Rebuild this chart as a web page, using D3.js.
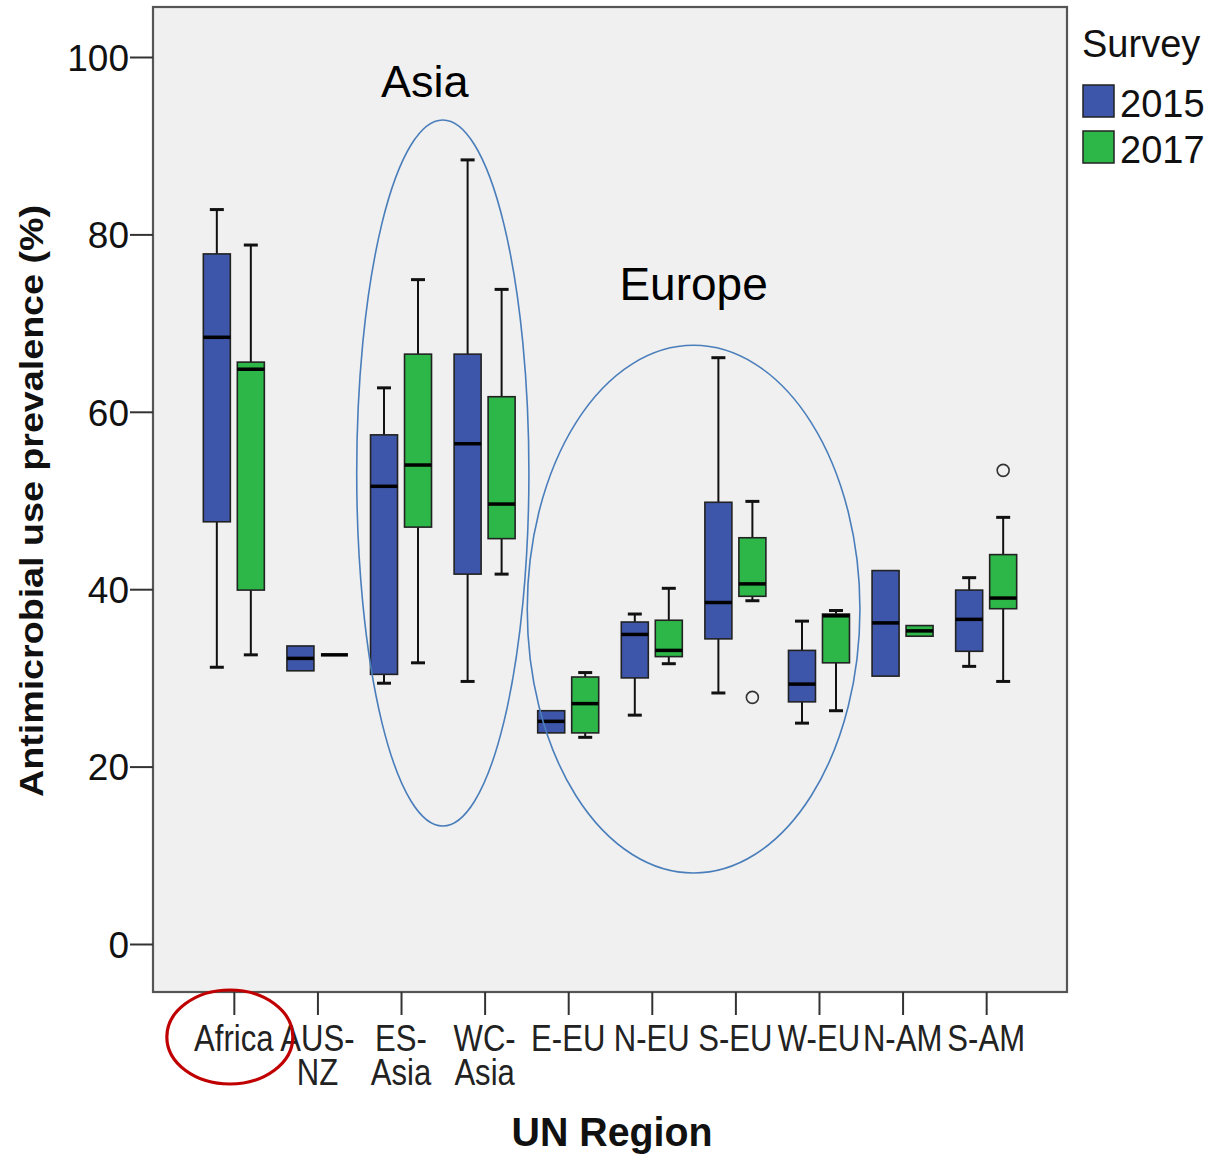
<!DOCTYPE html>
<html><head><meta charset="utf-8">
<script src="https://cdn.jsdelivr.net/npm/d3@7/dist/d3.min.js"></script>
<style>
html,body{margin:0;padding:0;background:#fff;}
svg{display:block;}
</style></head>
<body>
<svg id="chart" width="1209" height="1155"></svg>
<script>
// ---- data ----
const categories = ["Africa","AUS-NZ","ES-Asia","WC-Asia","E-EU","N-EU","S-EU","W-EU","N-AM","S-AM"];
const categoryLabels = [["Africa"],["AUS-","NZ"],["ES-","Asia"],["WC-","Asia"],["E-EU"],["N-EU"],["S-EU"],["W-EU"],["N-AM"],["S-AM"]];
const seriesNames = ["2015","2017"];
// [lower whisker, Q1, median, Q3, upper whisker]
const stats2015 = [
  [31.2, 47.6, 68.4, 77.8, 82.8],
  [30.8, 30.8, 32.2, 33.6, 33.6],
  [29.4, 30.4, 51.6, 57.4, 62.7],
  [29.6, 41.7, 56.4, 66.5, 88.4],
  [23.8, 23.8, 25.1, 26.3, 26.3],
  [25.8, 30.0, 34.9, 36.3, 37.2],
  [28.3, 34.4, 38.5, 49.8, 66.1],
  [24.9, 27.3, 29.3, 33.1, 36.4],
  [30.2, 30.2, 36.2, 42.1, 42.1],
  [31.3, 33.0, 36.6, 39.9, 41.3]
];
const stats2017 = [
  [32.6, 39.9, 64.8, 65.6, 78.8],
  [32.6, 32.6, 32.6, 32.6, 32.6],
  [31.7, 47.0, 54.0, 66.5, 74.9],
  [41.7, 45.7, 49.6, 61.7, 73.8],
  [23.3, 23.8, 27.1, 30.1, 30.6],
  [31.6, 32.4, 33.1, 36.5, 40.1],
  [38.7, 39.2, 40.6, 45.8, 49.9],
  [26.3, 31.7, 37.0, 37.2, 37.6],
  [34.7, 34.7, 35.3, 35.9, 35.9],
  [29.6, 37.8, 39.0, 43.9, 48.1]
];
const outlierCategories = ["S-EU","S-AM"];
const outlierSeries = ["2017","2017"];
const outlierValues = [27.8, 53.4];
const yTicks = [0,20,40,60,80,100];
// annotation groups
const groupLabels = ["Asia","Europe"];
const groupFrom = ["ES-Asia","N-EU"];
const groupTo = ["WC-Asia","S-EU"];
const groupLow = [13.3, 8.0];
const groupHigh = [92.9, 67.5];
const groupTextValue = [95.5, 72.6];

// ---- layout ----
const L = 153, R = 1067, T = 7, B = 992;
const colors = {"2015":"#3e56aa","2017":"#2db749"};
const svg = d3.select("#chart");

const x = d3.scalePoint().domain(categories).range([L, R]).padding(0.967);
const y = d3.scaleLinear().domain([0,100]).range([944, 57]);
const step = x.step();
const offset = {"2015": -17, "2017": 17};
const boxW = 27, capW = 14;

// plot background
svg.append("rect").attr("x",L).attr("y",T).attr("width",R-L).attr("height",B-T)
  .attr("fill","#f0f0f0").attr("stroke","#555").attr("stroke-width",2.2);

// y axis
const yAxis = d3.axisLeft(y).tickValues(yTicks).tickSize(23).tickPadding(1);
const gy = svg.append("g").attr("transform",`translate(${L},0)`).call(yAxis);
gy.select(".domain").remove();
gy.selectAll(".tick line").attr("stroke","#333").attr("stroke-width",2);
gy.selectAll(".tick text").attr("font-family","Liberation Sans, Arial, sans-serif")
  .attr("font-size",37).attr("fill","#111").attr("dy","0.36em");

// x axis
const xAxis = d3.axisBottom(x).tickSize(23).tickFormat("");
const gx = svg.append("g").attr("transform",`translate(0,${B})`).call(xAxis);
gx.select(".domain").remove();
gx.selectAll(".tick line").attr("stroke","#333").attr("stroke-width",2);

const xl = svg.append("g");
categories.forEach((c,i) => {
  const t = xl.append("text").attr("transform", `translate(${x(c)},1051) scale(0.84,1)`)
    .attr("text-anchor","middle").attr("font-family","Liberation Sans, Arial, sans-serif")
    .attr("font-size",37).attr("fill","#222");
  categoryLabels[i].forEach((line,k) => {
    t.append("tspan").attr("x", 0).attr("dy", k===0 ? 0 : 34).text(line);
  });
});

// axis titles
svg.append("text").attr("x", 612).attr("y", 1146).attr("text-anchor","middle")
  .attr("font-family","Liberation Sans, Arial, sans-serif").attr("font-weight","bold")
  .attr("font-size",40).attr("textLength",201).attr("lengthAdjust","spacingAndGlyphs")
  .attr("fill","#111").text("UN Region");
svg.append("text").attr("transform",`translate(43,${(205+797)/2}) rotate(-90)`).attr("text-anchor","middle")
  .attr("font-family","Liberation Sans, Arial, sans-serif").attr("font-weight","bold")
  .attr("font-size",34).attr("textLength",592).attr("lengthAdjust","spacingAndGlyphs")
  .attr("fill","#111").text("Antimicrobial use prevalence (%)");

// boxes
const boxes = svg.append("g");
function drawBox(cat, series, s){
  const cx = x(cat) + offset[series];
  const [lo,q1,med,q3,hi] = s;
  const g = boxes.append("g");
  if (hi > q3) {
    g.append("line").attr("x1",cx).attr("x2",cx).attr("y1",y(q3)).attr("y2",y(hi)).attr("stroke","#111").attr("stroke-width",2);
    g.append("line").attr("x1",cx-capW/2).attr("x2",cx+capW/2).attr("y1",y(hi)).attr("y2",y(hi)).attr("stroke","#111").attr("stroke-width",3);
  }
  if (lo < q1) {
    g.append("line").attr("x1",cx).attr("x2",cx).attr("y1",y(q1)).attr("y2",y(lo)).attr("stroke","#111").attr("stroke-width",2);
    g.append("line").attr("x1",cx-capW/2).attr("x2",cx+capW/2).attr("y1",y(lo)).attr("y2",y(lo)).attr("stroke","#111").attr("stroke-width",3);
  }
  if (q3 > q1) {
    g.append("rect").attr("x",cx-boxW/2).attr("y",y(q3)).attr("width",boxW).attr("height",y(q1)-y(q3))
      .attr("fill",colors[series]).attr("stroke","#222").attr("stroke-width",1.6);
  }
  g.append("line").attr("x1",cx-boxW/2).attr("x2",cx+boxW/2).attr("y1",y(med)).attr("y2",y(med))
    .attr("stroke","#000").attr("stroke-width",3.5);
}
categories.forEach((c,i) => { drawBox(c,"2015",stats2015[i]); drawBox(c,"2017",stats2017[i]); });

// outliers
outlierValues.forEach((v,i) => {
  svg.append("circle").attr("cx", x(outlierCategories[i]) + offset[outlierSeries[i]]).attr("cy", y(v))
    .attr("r",6).attr("fill","none").attr("stroke","#333").attr("stroke-width",1.6);
});

// annotation ellipses
groupLabels.forEach((lab,i) => {
  const x0 = x(groupFrom[i]), x1 = x(groupTo[i]);
  const cx = (x0+x1)/2;
  const rx = (x1-x0)/2 + (i===0 ? 0.53 : 1.49)*step;
  const cy = (y(groupLow[i]) + y(groupHigh[i]))/2;
  const ry = (y(groupLow[i]) - y(groupHigh[i]))/2;
  svg.append("ellipse").attr("cx",cx).attr("cy",cy).attr("rx",rx).attr("ry",ry)
    .attr("fill","none").attr("stroke","#4a7ebb").attr("stroke-width",1.6);
  svg.append("text").attr("x", i===0 ? cx-18 : cx).attr("y", y(groupTextValue[i])).attr("text-anchor","middle")
    .attr("font-family","Liberation Sans, Arial, sans-serif").attr("font-size",i===0?45:46).attr("fill","#000").text(lab);
});

// red ellipse around Africa label
svg.append("ellipse").attr("cx", x("Africa") - 4).attr("cy", 1037).attr("rx", 63).attr("ry", 47)
  .attr("fill","none").attr("stroke","#c00000").attr("stroke-width",3.2);

// legend
const lg = svg.append("g");
lg.append("text").attr("x",1082).attr("y",57).attr("font-family","Liberation Sans, Arial, sans-serif")
  .attr("font-size",38).attr("fill","#111").text("Survey");
seriesNames.forEach((s,i) => {
  lg.append("rect").attr("x",1083).attr("y",85 + i*46).attr("width",31).attr("height",32)
    .attr("fill",colors[s]).attr("stroke","#222").attr("stroke-width",1.5);
  lg.append("text").attr("x",1120).attr("y",117 + i*46).attr("font-family","Liberation Sans, Arial, sans-serif")
    .attr("font-size",38).attr("fill","#111").text(s);
});
</script>
</body></html>
